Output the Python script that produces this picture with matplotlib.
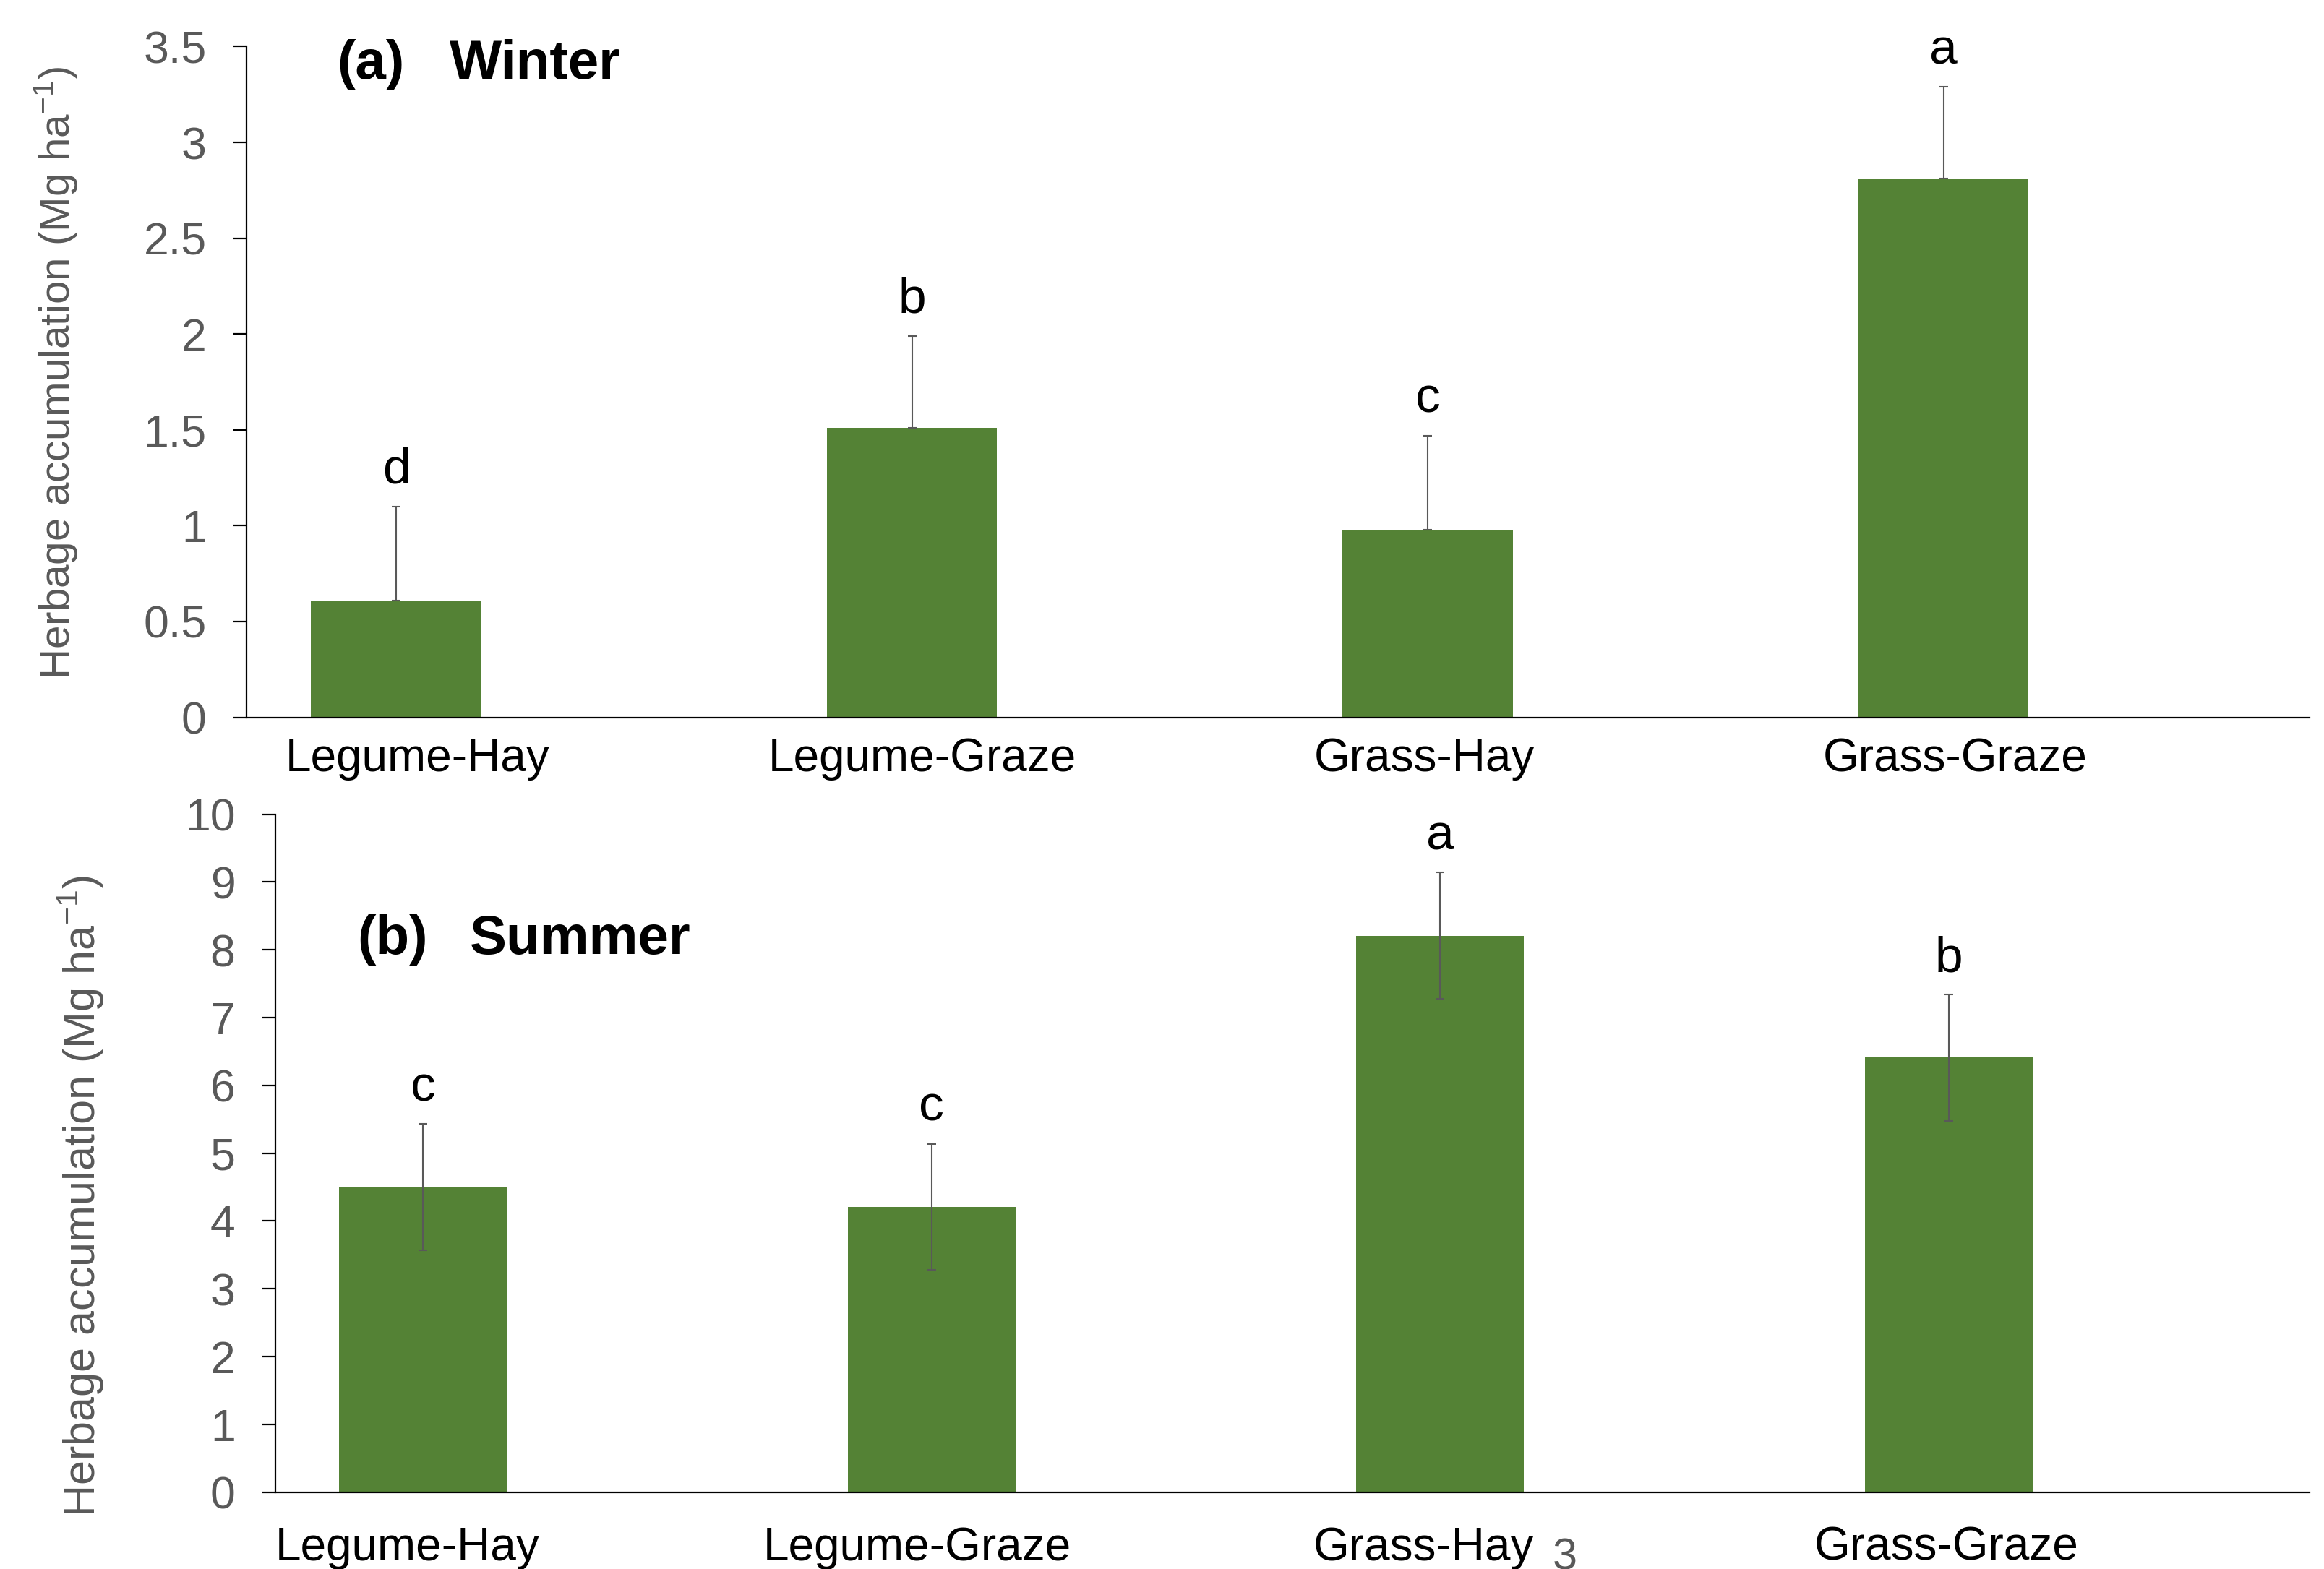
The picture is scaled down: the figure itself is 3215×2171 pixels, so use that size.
import numpy as np
import matplotlib.pyplot as plt
from matplotlib.transforms import ScaledTranslation

plt.rcParams['font.family'] = ['Liberation Sans', 'DejaVu Sans']
plt.rcParams['mathtext.fontset'] = 'custom'
plt.rcParams['mathtext.rm'] = 'Liberation Sans'

# data
treatments = ['Legume-Hay', 'Legume-Graze', 'Grass-Hay', 'Grass-Graze']

winter_mean = [0.61, 1.51, 0.98, 2.81]
winter_se = [0.49, 0.48, 0.49, 0.48]
winter_letters = ['d', 'b', 'c', 'a']

summer_mean = [4.50, 4.21, 8.21, 6.41]
summer_se = [0.93, 0.93, 0.93, 0.93]
summer_letters = ['c', 'c', 'a', 'b']

green = '#548235'
grey = '#595959'
ylab = 'Herbage accumulation (Mg ha$^{\\mathrm{-1}}$)'

W, H = 3216, 2171
fig = plt.figure(figsize=(W / 200, H / 200), dpi=200)

ax1 = fig.add_axes([0.1061, 0.5428, 0.8874, 0.4275])
ax2 = fig.add_axes([0.1185, 0.04896, 0.8750, 0.4321])


def draw_panel(ax, mean, se, letters, ymax, step, both, lab_pad, lab_shift):
    x = np.arange(len(mean))
    ax.bar(x, mean, width=0.33, color=green, zorder=2)
    lower = se if both else np.zeros(len(se))
    ax.errorbar(x, mean, yerr=[lower, se], fmt='none', ecolor=grey,
                elinewidth=0.75, capsize=2, capthick=0.75, zorder=3)
    for xi, m, s, let in zip(x, mean, se, letters):
        ax.annotate(let, xy=(xi, m + s), xytext=(0, 18),
                    textcoords='offset points', ha='center', va='center',
                    fontsize=25)
    ax.set_xlim(-0.29, 3.71)
    ax.set_ylim(0, ymax)
    ax.set_yticks(np.arange(0, ymax + step / 2, step))
    ax.yaxis.set_major_formatter(plt.FuncFormatter(lambda v, p: '%g' % v))
    ax.set_xticks(x)
    ax.set_xticklabels(treatments)
    for sp in ['top', 'right']:
        ax.spines[sp].set_visible(False)
    for sp in ['left', 'bottom']:
        ax.spines[sp].set_linewidth(0.8)
        ax.spines[sp].set_color('black')
    ax.tick_params(axis='y', length=6.5, width=0.8, color='black',
                   labelcolor=grey, labelsize=22.5, pad=13.5)
    ax.tick_params(axis='x', length=0, labelsize=23, pad=lab_pad,
                   labelcolor='black')
    # the category labels sit a little off the bar centres in the original
    for lbl, dx in zip(ax.get_xticklabels(), lab_shift):
        lbl.set_transform(lbl.get_transform() +
                          ScaledTranslation(dx / 200, 0, fig.dpi_scale_trans))


draw_panel(ax1, winter_mean, winter_se, winter_letters, 3.5, 0.5, False, 10,
           [30, 14, -5, 16])
draw_panel(ax2, summer_mean, summer_se, summer_letters, 10, 1, True, 17,
           [-21, -20, -23, -3])

# panel titles
fig.text(466 / W, 1 - 109 / H, '(a)', fontsize=27.5, fontweight='bold', va='baseline')
fig.text(622 / W, 1 - 109 / H, 'Winter', fontsize=27.5, fontweight='bold', va='baseline')
fig.text(494 / W, 1 - 1320 / H, '(b)', fontsize=27.5, fontweight='bold', va='baseline')
fig.text(650 / W, 1 - 1320 / H, 'Summer', fontsize=27.5, fontweight='bold', va='baseline')

# y labels
fig.text(78 / W, 1 - 516 / H, ylab, rotation=90, ha='center', va='center',
         color=grey, fontsize=21)
fig.text(112 / W, 1 - 1655 / H, ylab, rotation=90, ha='center', va='center',
         color=grey, fontsize=22)

# stray glyph next to the lower Grass-Hay label
fig.text(2148 / W, 1 - 2127 / H, '3', color=grey, fontsize=22, va='top')

fig.savefig('out.png', dpi=200)
